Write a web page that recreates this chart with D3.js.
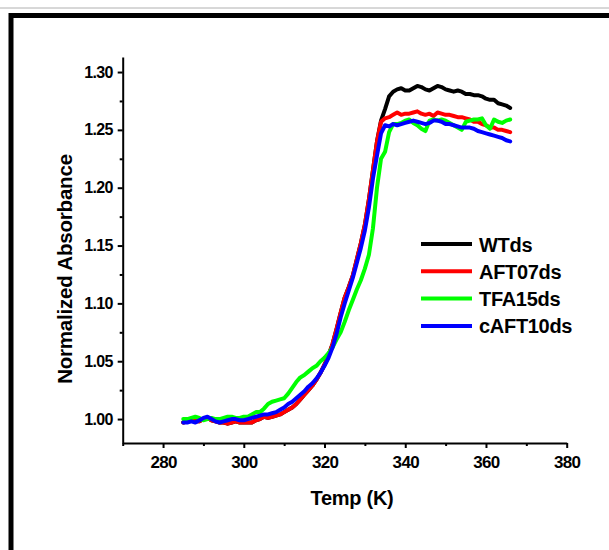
<!doctype html>
<html lang="en">
<head>
	<meta charset="UTF-8">
	<title>Normalized Absorbance vs Temp</title>
	<style>
		body {
			margin: 0;
			background: #fff;
		}
		svg text {
			font-family: "Liberation Sans", Arial, sans-serif;
			font-weight: bold;
			fill: #000;
		}
		.axis path,
		.axis line {
			stroke: #000;
			stroke-width: 2px;
		}
		.series {
			fill: none;
			stroke-width: 4px;
			stroke-linejoin: round;
			stroke-linecap: round;
		}
	</style>
</head>
<body>
	<script src="https://cdn.jsdelivr.net/npm/d3@7"></script>
	<script>
		// temperature grid (K), one reading per kelvin
		var temps = [285, 286, 287, 288, 289, 290, 291, 292, 293, 294, 295, 296, 297, 298, 299,
			300, 301, 302, 303, 304, 305, 306, 307, 308, 309, 310, 311, 312, 313, 314, 315,
			316, 317, 318, 319, 320, 321, 322, 323, 324, 325, 326, 327, 328, 329, 330, 331,
			332, 333, 334, 335, 336, 337, 338, 339, 340, 341, 342, 343, 344, 345, 346, 347,
			348, 349, 350, 351, 352, 353, 354, 355, 356, 357, 358, 359, 360, 361, 362, 363,
			364, 365, 366];

		var wtds = [0.997, 0.998, 0.999, 0.998, 0.998, 1.000, 1.001, 0.999, 0.998, 0.997, 0.997,
			0.996, 0.997, 0.998, 0.997, 0.997, 0.997, 0.997, 0.999, 1.000, 1.002, 1.001, 1.002,
			1.003, 1.004, 1.006, 1.008, 1.010, 1.013, 1.017, 1.021, 1.025, 1.029, 1.034, 1.040,
			1.047, 1.055, 1.065, 1.078, 1.092, 1.105, 1.114, 1.124, 1.138, 1.152, 1.168, 1.190,
			1.215, 1.240, 1.258, 1.268, 1.279, 1.283, 1.285, 1.286, 1.284, 1.284, 1.286, 1.288,
			1.287, 1.285, 1.284, 1.286, 1.288, 1.287, 1.285, 1.284, 1.283, 1.284, 1.283, 1.281,
			1.281, 1.280, 1.280, 1.279, 1.277, 1.276, 1.276, 1.273, 1.272, 1.271, 1.269];

		var aft07ds = [0.997, 0.998, 0.999, 0.998, 0.998, 1.000, 1.001, 0.999, 0.998, 0.997, 0.997,
			0.996, 0.997, 0.998, 0.997, 0.997, 0.997, 0.997, 0.999, 1.000, 1.002, 1.001, 1.002,
			1.003, 1.004, 1.006, 1.008, 1.010, 1.013, 1.017, 1.021, 1.025, 1.029, 1.034, 1.040,
			1.047, 1.055, 1.065, 1.078, 1.092, 1.105, 1.114, 1.124, 1.138, 1.152, 1.168, 1.190,
			1.215, 1.240, 1.257, 1.260, 1.261, 1.263, 1.265, 1.263, 1.264, 1.264, 1.265, 1.266,
			1.264, 1.263, 1.264, 1.262, 1.265, 1.264, 1.263, 1.263, 1.262, 1.261, 1.261, 1.260,
			1.259, 1.257, 1.257, 1.255, 1.254, 1.252, 1.252, 1.250, 1.250, 1.249, 1.248];

		var tfa15ds = [1.000, 1.000, 1.001, 1.002, 1.001, 0.999, 1.000, 1.001, 1.000, 1.000, 1.001,
			1.002, 1.002, 1.001, 1.001, 1.002, 1.002, 1.004, 1.006, 1.006, 1.009, 1.013, 1.015,
			1.016, 1.017, 1.018, 1.022, 1.027, 1.032, 1.036, 1.038, 1.041, 1.044, 1.046, 1.050,
			1.053, 1.057, 1.062, 1.069, 1.075, 1.084, 1.094, 1.103, 1.112, 1.120, 1.130, 1.142,
			1.165, 1.200, 1.225, 1.231, 1.248, 1.255, 1.255, 1.256, 1.258, 1.259, 1.256, 1.254,
			1.251, 1.249, 1.258, 1.259, 1.258, 1.259, 1.258, 1.256, 1.254, 1.252, 1.250, 1.257,
			1.258, 1.259, 1.259, 1.260, 1.254, 1.251, 1.259, 1.257, 1.256, 1.258, 1.259];

		var caft10ds = [0.997, 0.997, 0.998, 0.997, 0.999, 1.001, 1.002, 1.000, 0.998, 0.997, 0.998,
			0.999, 1.000, 1.000, 0.999, 0.999, 1.000, 1.001, 1.002, 1.003, 1.004, 1.004, 1.005,
			1.006, 1.008, 1.010, 1.013, 1.015, 1.018, 1.021, 1.024, 1.028, 1.031, 1.035, 1.040,
			1.046, 1.053, 1.062, 1.074, 1.088, 1.100, 1.111, 1.122, 1.135, 1.148, 1.163, 1.183,
			1.208, 1.228, 1.247, 1.254, 1.253, 1.255, 1.254, 1.255, 1.256, 1.257, 1.258, 1.257,
			1.256, 1.255, 1.256, 1.258, 1.258, 1.257, 1.255, 1.255, 1.254, 1.253, 1.252, 1.252,
			1.252, 1.251, 1.249, 1.248, 1.247, 1.246, 1.245, 1.244, 1.243, 1.241, 1.240];

		var seriesNames = ['WTds', 'AFT07ds', 'TFA15ds', 'cAFT10ds'];
		var seriesColors = ['#000000', '#ff0000', '#00ff00', '#0000ff'];
		var seriesValues = [wtds, aft07ds, tfa15ds, caft10ds];

		var xTicks = [280, 300, 320, 340, 360, 380];
		var xMinor = [270, 290, 310, 330, 350, 370];
		var yTicks = [1.00, 1.05, 1.10, 1.15, 1.20, 1.25, 1.30];
		var yMinor = [1.025, 1.075, 1.125, 1.175, 1.225, 1.275];

		var w = 609,
			h = 550;

		var svg = d3.select('body')
			.append('svg')
			.attr('width', w)
			.attr('height', h);

		// page frame like the original figure
		svg.append('line')
			.attr('x1', 0).attr('x2', w)
			.attr('y1', 8).attr('y2', 8)
			.attr('stroke', '#b0b0b0')
			.attr('stroke-width', 1);

		svg.append('path')
			.attr('d', 'M11,' + h + 'V15.5H' + w)
			.attr('fill', 'none')
			.attr('stroke', '#000')
			.attr('stroke-width', 5);

		var xScale = d3.scaleLinear()
			.domain([270, 380])
			.range([122.7, 566.7]);

		var yScale = d3.scaleLinear()
			.domain([0.9793, 1.313])
			.range([443, 57]);

		// minor ticks first (no labels)
		svg.append('g')
			.attr('class', 'axis')
			.attr('transform', 'translate(0,443)')
			.call(d3.axisBottom(xScale)
				.tickValues(xMinor)
				.tickSize(3)
				.tickFormat(''))
			.select('.domain').remove();

		svg.append('g')
			.attr('class', 'axis')
			.attr('transform', 'translate(122.7,0)')
			.call(d3.axisLeft(yScale)
				.tickValues(yMinor)
				.tickSize(3)
				.tickFormat(''))
			.select('.domain').remove();

		var xAxis = svg.append('g')
			.attr('class', 'axis')
			.attr('transform', 'translate(0,443)')
			.call(d3.axisBottom(xScale)
				.tickValues(xTicks)
				.tickSize(5)
				.tickSizeOuter(0)
				.tickPadding(8)
				.tickFormat(d3.format('d')));
		xAxis.selectAll('text')
			.style('font-size', '17px')
			.style('letter-spacing', '-0.7px');

		var yAxis = svg.append('g')
			.attr('class', 'axis')
			.attr('transform', 'translate(122.7,0)')
			.call(d3.axisLeft(yScale)
				.tickValues(yTicks)
				.tickSize(5)
				.tickSizeOuter(0)
				.tickPadding(5)
				.tickFormat(d3.format('.2f')));
		yAxis.selectAll('text')
			.style('font-size', '16px')
			.style('letter-spacing', '-0.7px');

		// axis titles
		svg.append('text')
			.attr('x', 352)
			.attr('y', 505)
			.attr('text-anchor', 'middle')
			.style('font-size', '20px')
			.style('letter-spacing', '-0.3px')
			.text('Temp (K)');

		svg.append('text')
			.attr('transform', 'translate(72,269) rotate(-90)')
			.attr('text-anchor', 'middle')
			.style('font-size', '20.5px')
			.style('letter-spacing', '-0.2px')
			.text('Normalized Absorbance');

		// curves
		var line = d3.line()
			.x(function(d, i) { return xScale(temps[i]); })
			.y(function(d) { return yScale(d); });

		svg.selectAll('.series')
			.data(seriesValues)
			.enter()
			.append('path')
			.attr('class', 'series')
			.attr('stroke', function(d, i) { return seriesColors[i]; })
			.attr('d', line);

		// legend
		var legend = svg.append('g')
			.attr('transform', 'translate(421,244)');

		var rows = legend.selectAll('g')
			.data(seriesNames)
			.enter()
			.append('g')
			.attr('transform', function(d, i) { return 'translate(0,' + (i * 27.3) + ')'; });

		rows.append('line')
			.attr('x1', 0).attr('x2', 51)
			.attr('stroke-width', 4)
			.attr('stroke', function(d, i) { return seriesColors[i]; });

		rows.append('text')
			.attr('x', 58)
			.attr('y', 7.5)
			.style('font-size', '20px')
			.style('letter-spacing', '-0.3px')
			.text(function(d) { return d; });
	</script>
</body>
</html>
